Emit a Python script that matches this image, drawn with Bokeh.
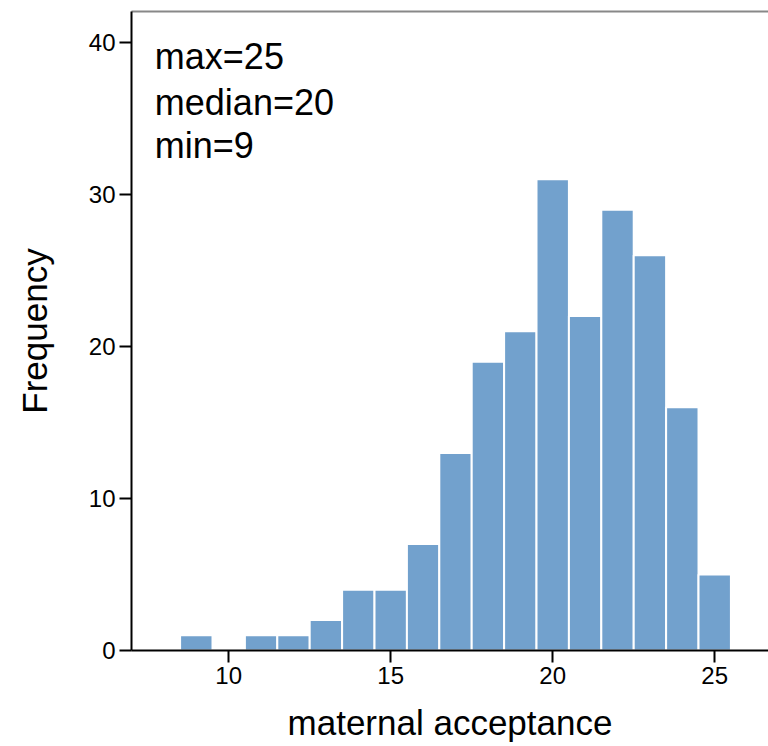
from bokeh.plotting import figure
from bokeh.models import Range1d, LinearAxis, FixedTicker, Label, ColumnDataSource
from bokeh.embed import file_html
from bokeh.resources import INLINE

# Data
scores = [9, 10, 11, 12, 13, 14, 15, 16, 17, 18, 19, 20, 21, 22, 23, 24, 25]
counts = [1, 0, 1, 1, 2, 4, 4, 7, 13, 19, 21, 31, 22, 29, 26, 16, 5]
x_ticks = [10, 15, 20, 25]
y_ticks = [0, 10, 20, 30, 40]
stats_lines = ["max=25", "median=20", "min=9"]

FONT = "Liberation Sans"

p = figure(width=768, height=746, output_backend="svg", toolbar_location=None,
           x_range=Range1d(7.0, 26.66), y_range=Range1d(0, 42.04),
           min_border_left=131, min_border_top=11, min_border_bottom=96, min_border_right=0)
p.outline_line_color = None
p.grid.grid_line_color = None
p.background_fill_color = "white"
p.border_fill_color = "white"

src = ColumnDataSource(dict(x=scores, top=counts))
p.vbar(x="x", top="top", bottom=0, width=1.0, source=src,
       fill_color="#72a1cd", line_color="white", line_width=2)

for axes in (p.xaxis, p.yaxis):
    axes.axis_line_color = "black"
    axes.axis_line_width = 2
    axes.major_tick_line_color = "black"
    axes.major_tick_line_width = 2
    axes.major_tick_out = 12
    axes.major_tick_in = 0
    axes.minor_tick_line_color = None
    axes.major_label_text_font = FONT
    axes.major_label_text_font_size = "24px"
    axes.major_label_text_color = "black"
    axes.axis_label_text_font = FONT
    axes.axis_label_text_font_size = "35px"
    axes.axis_label_text_font_style = "normal"
    axes.axis_label_text_color = "black"

p.xaxis.ticker = FixedTicker(ticks=x_ticks)
p.yaxis.ticker = FixedTicker(ticks=y_ticks)
p.xaxis.axis_label = "maternal acceptance"
p.yaxis.axis_label = "Frequency"
p.xaxis.major_label_standoff = 4
p.xaxis.axis_label_standoff = 16
p.yaxis.major_label_standoff = 4
p.yaxis.axis_label_standoff = 32

top_axis = LinearAxis(ticker=FixedTicker(ticks=[]), major_label_text_font_size="0px",
                      axis_line_color="#888888", axis_line_width=2,
                      major_tick_line_color=None, minor_tick_line_color=None)
p.add_layout(top_axis, "above")

ys = [40.45, 37.4, 34.6]
for txt, yv in zip(stats_lines, ys):
    p.add_layout(Label(x=7.72, y=yv, text=txt, text_font=FONT, text_font_size="36px",
                       text_color="black", text_baseline="top"))

open("out.html", "w").write(file_html(p, INLINE))
